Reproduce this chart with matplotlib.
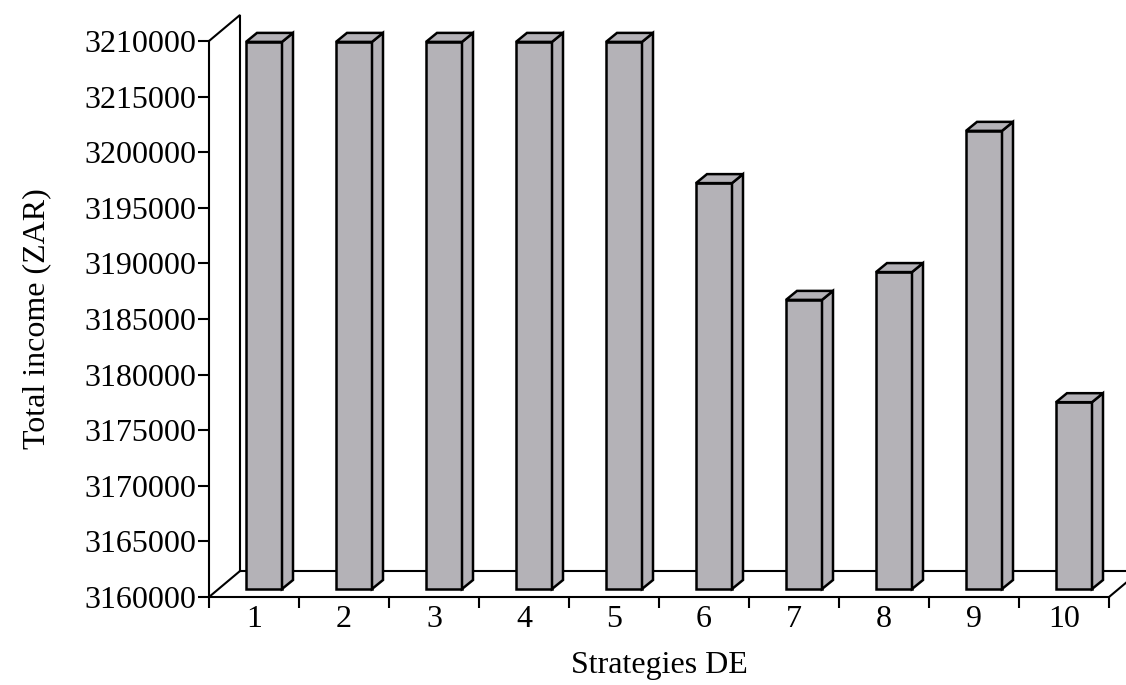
import matplotlib

matplotlib.use("Agg")
import matplotlib.pyplot as plt
from matplotlib.patches import Polygon

# --- data -------------------------------------------------------------------
strategies = [1, 2, 3, 4, 5, 6, 7, 8, 9, 10]
income = [3209200, 3209200, 3209200, 3209200, 3209200,
          3196500, 3186000, 3188500, 3201200, 3176800]
ytick_values = [3160000, 3165000, 3170000, 3175000, 3180000, 3185000,
                3190000, 3195000, 3200000, 3205000, 3210000]
ytick_labels = ["3160000", "3165000", "3170000", "3175000", "3180000",
                "3185000", "3190000", "3195000", "3200000", "3215000",
                "3210000"]
y_min, y_max = 3160000, 3210000

plt.rcParams["font.family"] = ["Liberation Serif", "DejaVu Serif"]
FS = 23
BAR_FACE = "#b4b2b7"
LW = 1.5

fig = plt.figure(figsize=(11.26, 6.85), dpi=100)
ax = fig.add_axes([209 / 1126, 88 / 685, 900 / 1126, 556 / 685])
ax.set_xlim(0.5, 10.5)
ax.set_ylim(y_min, y_max)
ax.patch.set_visible(False)

for side in ("top", "right"):
    ax.spines[side].set_visible(False)
for side in ("left", "bottom"):
    ax.spines[side].set_linewidth(LW)

ax.set_yticks(ytick_values)
ax.set_yticklabels(ytick_labels, fontsize=FS)
ax.tick_params(axis="y", direction="out", length=8, width=LW, pad=1)

ax.set_xticks([s - 0.5 for s in strategies] + [10.5])
ax.set_xticklabels([])
ax.set_xticks(strategies, minor=True)
ax.set_xticklabels([str(s) for s in strategies], minor=True, fontsize=FS)
ax.tick_params(axis="x", which="major", direction="out", length=8, width=LW)
ax.tick_params(axis="x", which="minor", length=0, pad=6)

ax.set_xlabel("Strategies DE", fontsize=FS, labelpad=12)
ax.set_ylabel("Total income (ZAR)", fontsize=FS, labelpad=24)

fig.canvas.draw()
inv = ax.transData.inverted()
origin = ax.transData.transform((0, 0))


def depth(px, py):
    """Convert a shift in pixels into a shift in data units."""
    x1, y1 = inv.transform((origin[0] + px, origin[1] + py))
    return x1, y1


wx, wy = depth(31, 26)      # depth of the back wall
fx, fy = depth(10, 8)       # front face of the bars
bx, by = depth(21, 17)      # back face of the bars

line_kw = dict(color="black", lw=LW, clip_on=False, zorder=1,
               solid_joinstyle="miter")
# left wall and floor edges
ax.plot([0.5, 0.5 + wx, 0.5 + wx], [y_max, y_max + wy, y_min + wy], **line_kw)
ax.plot([0.5, 0.5 + wx], [y_min, y_min + wy], **line_kw)
ax.plot([0.5 + wx, 10.5 + wx], [y_min + wy, y_min + wy], **line_kw)
ax.plot([10.5, 10.5 + wx], [y_min, y_min + wy], **line_kw)

# pseudo-3D bars
half = 0.2
for s, v in zip(strategies, income):
    xl, xr = s - half + fx, s + half + fx
    y0, y1 = y_min + fy, v + fy
    dx, dy = bx - fx, by - fy
    faces = [
        [(xl, y0), (xr, y0), (xr, y1), (xl, y1)],
        [(xr, y0), (xr + dx, y0 + dy), (xr + dx, y1 + dy), (xr, y1)],
        [(xl, y1), (xr, y1), (xr + dx, y1 + dy), (xl + dx, y1 + dy)],
    ]
    for f in faces:
        ax.add_patch(Polygon(f, closed=True, facecolor=BAR_FACE,
                             edgecolor="black", lw=1.8, clip_on=False,
                             zorder=3, joinstyle="miter"))

fig.savefig("out.png", dpi=100)
